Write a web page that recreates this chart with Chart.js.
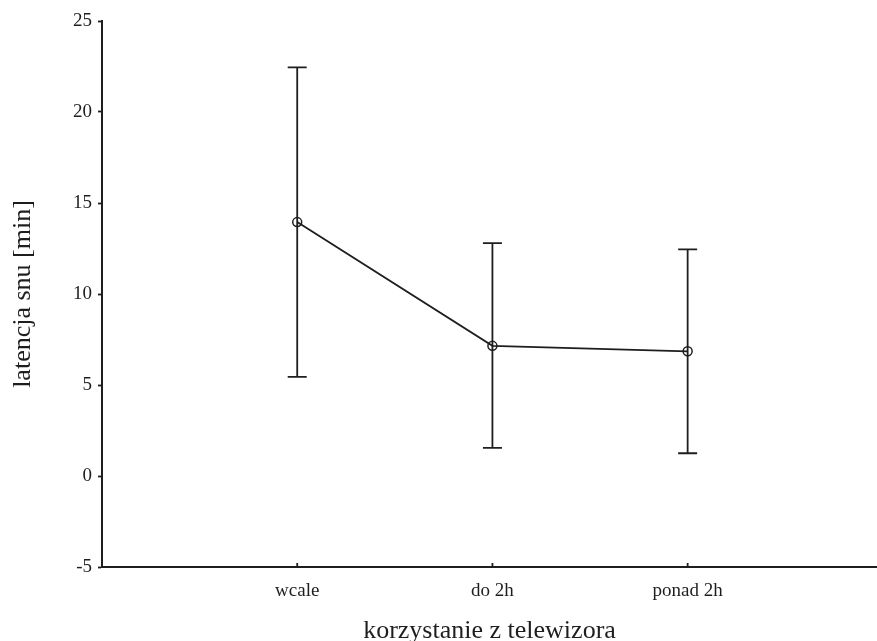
<!DOCTYPE html>
<html>
<head>
<meta charset="utf-8">
<script src="https://cdn.jsdelivr.net/npm/chart.js@4"></script>
<style>
  html, body { margin: 0; padding: 0; background: #fff; }
</style>
</head>
<body>
<canvas id="chart-latency" width="877" height="641"></canvas>
<script>
var groups = ["wcale", "do 2h", "ponad 2h"]
var means = [13.95, 7.15, 6.85]
var lower = [5.45, 1.55, 1.25]
var upper = [22.45, 12.8, 12.45]
var yTicks = [-5, 0, 5, 10, 15, 20, 25]

var ink = "#1e1e1e"
var serif = "'Liberation Serif', 'Times New Roman', serif"

// whiskers + small inward x ticks, drawn through the scales
var errorBars = {
	id: "errorBars",
	beforeDatasetsDraw: function(chart) {
		var ctx = chart.ctx
		var xs = chart.scales.x, ys = chart.scales.y
		ctx.save()
		ctx.strokeStyle = ink
		ctx.lineWidth = 1.8
		for (var i = 0; i < groups.length; i++) {
			var px = xs.getPixelForValue(i + 1)
			var top = ys.getPixelForValue(upper[i])
			var bot = ys.getPixelForValue(lower[i])
			ctx.beginPath()
			ctx.moveTo(px, top); ctx.lineTo(px, bot)
			ctx.moveTo(px - 9.5, top); ctx.lineTo(px + 9.5, top)
			ctx.moveTo(px - 9.5, bot); ctx.lineTo(px + 9.5, bot)
			// tick mark on the x axis
			ctx.moveTo(px, ys.bottom); ctx.lineTo(px, ys.bottom - 4)
			ctx.stroke()
		}
		ctx.restore()
	}
}

var ctxLatency = document.getElementById("chart-latency").getContext("2d")
var chartLatency = new Chart(ctxLatency, {
	type: "line",
	data: {
		datasets: [{
			data: means.map(function(v, i) { return { x: i + 1, y: v } }),
			borderColor: ink,
			borderWidth: 1.8,
			backgroundColor: "rgba(0,0,0,0)",
			pointRadius: 4.5,
			pointBorderWidth: 1.5,
			pointBorderColor: ink,
			pointBackgroundColor: "rgba(0,0,0,0)",
			tension: 0
		}]
	},
	plugins: [errorBars],
	options: {
		responsive: false,
		animation: false,
		layout: { autoPadding: false, padding: { top: 21, right: 0, left: 0, bottom: 0 } },
		plugins: { legend: { display: false }, tooltip: { enabled: false } },
		scales: {
			x: {
				type: "linear",
				min: 0,
				max: 3.97,
				afterFit: function(s) { s.height = 74 },
				afterBuildTicks: function(s) {
					s.ticks = groups.map(function(g, i) { return { value: i + 1 } })
				},
				ticks: {
					callback: function(v) { return groups[v - 1] },
					color: ink,
					font: { family: serif, size: 19 },
					padding: 13,
					maxRotation: 0
				},
				grid: { drawOnChartArea: false, drawTicks: false },
				border: { color: ink, width: 2 },
				title: {
					display: true,
					text: "korzystanie z telewizora",
					color: ink,
					font: { family: serif, size: 26 },
					padding: { top: 0, bottom: -6 }
				}
			},
			y: {
				min: yTicks[0],
				max: yTicks[yTicks.length - 1],
				afterFit: function(s) { s.width = 102 },
				afterBuildTicks: function(s) {
					s.ticks = yTicks.map(function(v) { return { value: v } })
				},
				ticks: {
					color: ink,
					font: { family: serif, size: 19 },
					padding: 6
				},
				grid: { drawOnChartArea: false, tickLength: 4, color: ink, tickWidth: 1.8 },
				border: { color: ink, width: 2 },
				title: {
					display: true,
					text: "latencja snu [min]",
					color: ink,
					font: { family: serif, size: 26 },
					padding: { top: 8, bottom: 0 }
				}
			}
		}
	}
})
</script>
</body>
</html>
